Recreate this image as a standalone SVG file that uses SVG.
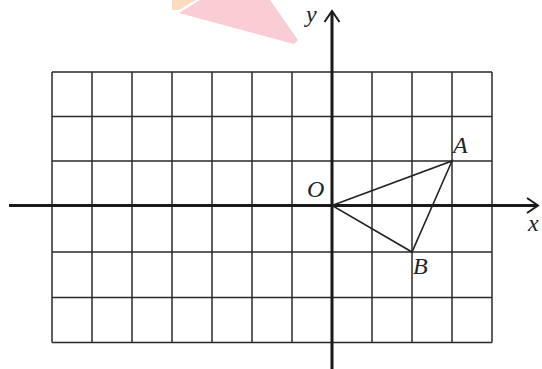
<svg xmlns="http://www.w3.org/2000/svg" width="542" height="369" viewBox="0 0 542 369">
<style>
.grid line{stroke:#2a2a2a;stroke-width:1.5}
.axis{stroke:#1a1a1a;stroke-width:3;fill:none}
.arrow{stroke:#1a1a1a;stroke-width:2;fill:none}
.tri{stroke:#222;stroke-width:1.6;fill:none}
.lbl{font-family:"Liberation Serif",serif;font-style:italic;font-size:24px;fill:#222}
</style>
<rect width="542" height="369" fill="#fff"/>
<polygon points="172,0 196,0 179,10 172,10" fill="#fbdcc0"/>
<polygon points="179,13 200,0 270,0 298,40 294,44" fill="#f9cdd3"/>
<g id="grid" class="grid">
<line x1="52" y1="72" x2="492" y2="72"/>
<line x1="52" y1="116.5" x2="492" y2="116.5"/>
<line x1="52" y1="161" x2="492" y2="161"/>
<line x1="52" y1="252" x2="492" y2="252"/>
<line x1="52" y1="297.5" x2="492" y2="297.5"/>
<line x1="52" y1="342.5" x2="492" y2="342.5"/>
<line x1="52" y1="72" x2="52" y2="342.5"/>
<line x1="92" y1="72" x2="92" y2="342.5"/>
<line x1="132" y1="72" x2="132" y2="342.5"/>
<line x1="172" y1="72" x2="172" y2="342.5"/>
<line x1="212" y1="72" x2="212" y2="342.5"/>
<line x1="252" y1="72" x2="252" y2="342.5"/>
<line x1="292" y1="72" x2="292" y2="342.5"/>
<line x1="372" y1="72" x2="372" y2="342.5"/>
<line x1="412" y1="72" x2="412" y2="342.5"/>
<line x1="452" y1="72" x2="452" y2="342.5"/>
<line x1="492" y1="72" x2="492" y2="342.5"/>
</g>
<g id="connectors">
<line class="axis" x1="9" y1="205.5" x2="537" y2="205.5"/>
<polyline class="arrow" points="527,198 538,205.5 527,213"/>
<line class="axis" x1="332" y1="369" x2="332" y2="12"/>
<polyline class="arrow" points="324.5,22 332,11 339.5,22"/>
<polygon class="tri" points="332,205.5 452,161 412,252"/>
</g>
<g id="labels">
<text class="lbl" x="306" y="22">y</text>
<text class="lbl" x="307" y="197">O</text>
<text class="lbl" x="453" y="153">A</text>
<text class="lbl" x="413" y="274">B</text>
<text class="lbl" x="528" y="231">x</text>
</g>
</svg>
